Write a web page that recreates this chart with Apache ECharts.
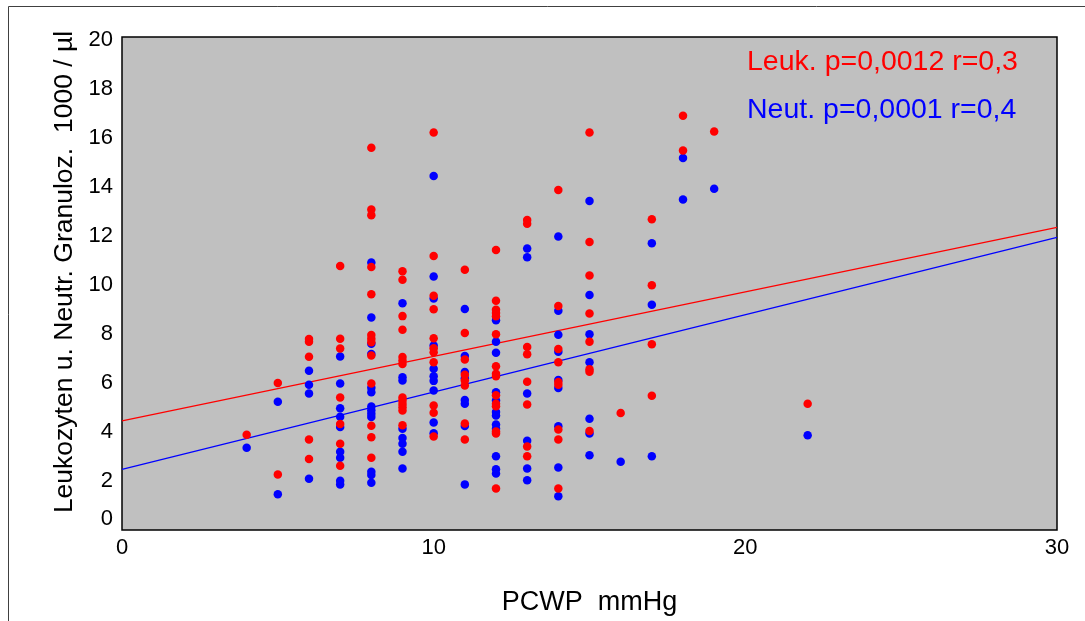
<!DOCTYPE html>
<html>
<head>
<meta charset="utf-8">
<script src="https://cdn.jsdelivr.net/npm/echarts@6/dist/echarts.min.js"></script>
<style>
html,body{margin:0;padding:0;background:#fff;}
#chart{width:1085px;height:621px;}
</style>
</head>
<body>
<div id="chart"></div>
<script>
// PCWP (mmHg) levels, one per column of points
const pcwp = [4, 5, 6, 7, 8, 9, 10, 11, 12, 13, 14, 15, 16, 17, 18, 19, 22];

// Leukozyten (1000/µl) per PCWP level
const leuk = [
  [3.88],
  [5.99, 2.26],
  [7.79, 7.68, 7.06, 3.69, 2.89],
  [10.76, 7.80, 7.40, 5.40, 4.32, 3.52, 2.62],
  [15.58, 13.07, 12.83, 10.72, 9.61, 7.95, 7.80, 7.65, 7.11, 5.97, 4.25, 3.78, 2.95],
  [10.55, 10.20, 8.72, 8.16, 7.05, 6.91, 6.77, 5.40, 5.28, 5.14, 5.00, 4.87, 4.27],
  [16.21, 11.17, 9.55, 9.00, 7.82, 7.41, 7.25, 6.84, 5.08, 4.78, 3.81],
  [10.61, 8.03, 6.95, 6.33, 6.10, 5.89, 4.34, 3.69],
  [11.42, 9.35, 8.98, 8.85, 8.71, 7.98, 6.68, 6.37, 6.27, 5.49, 5.15, 5.05, 4.02, 3.93, 1.69],
  [12.64, 12.49, 7.46, 7.17, 6.04, 5.12, 3.40, 3.01],
  [13.86, 9.13, 7.38, 6.84, 6.03, 5.92, 4.10, 3.69, 1.69],
  [16.21, 11.74, 10.38, 8.83, 7.68, 6.55, 6.45, 4.04],
  [4.77],
  [12.67, 9.98, 7.57, 5.47],
  [16.89, 15.47],
  [16.25],
  [5.15]
];

// Neutrophile Granulozyten (1000/µl) per PCWP level
const neut = [
  [3.35],
  [5.23, 1.46],
  [6.49, 5.92, 5.57, 2.09],
  [7.07, 5.97, 4.96, 4.62, 4.20, 3.19, 2.95, 2.01, 1.86],
  [10.91, 8.66, 7.59, 7.18, 5.80, 5.62, 5.04, 4.88, 4.74, 4.61, 2.37, 2.24, 1.93],
  [9.24, 6.23, 6.10, 4.13, 3.75, 3.52, 3.19, 2.51],
  [14.43, 10.34, 9.44, 7.52, 6.57, 6.27, 6.08, 5.69, 4.38, 3.94],
  [9.01, 7.09, 6.44, 6.19, 5.30, 5.15, 4.24, 1.86],
  [8.55, 7.68, 7.23, 5.62, 5.28, 4.81, 4.67, 4.30, 4.13, 3.01, 2.48, 2.30],
  [11.48, 11.12, 5.57, 3.64, 2.51, 2.03],
  [11.97, 8.94, 7.96, 7.27, 6.12, 5.79, 4.23, 2.55, 1.38],
  [13.41, 9.58, 7.98, 6.84, 4.54, 3.93, 3.05],
  [2.78],
  [11.69, 9.18, 3.01],
  [15.17, 13.47],
  [13.91],
  [3.86]
];

// Regression lines (endpoints at PCWP 0 and 30)
const fitLeuk = [[0, 4.45], [30, 12.34]];
const fitNeut = [[0, 2.47], [30, 11.93]];

const yTicks = [0, 2, 4, 6, 8, 10, 12, 14, 16, 18, 20];
const xTicks = [0, 10, 20, 30];

const labelLeuk = 'Leuk. p=0,0012 r=0,3';
const labelNeut = 'Neut. p=0,0001 r=0,4';
const xName = 'PCWP  mmHg';
const yName = 'Leukozyten u. Neutr. Granuloz.  1000 / µl';

function pairs(groups) {
  const out = [];
  groups.forEach((vals, i) => vals.forEach(v => out.push([pcwp[i], v])));
  return out;
}

const FONT = 'Arial, "Liberation Sans", sans-serif';
const chart = echarts.init(document.getElementById('chart'), null, {renderer: 'canvas'});
chart.setOption({
  animation: false,
  backgroundColor: '#ffffff',
  grid: {
    left: 122, right: 28, top: 37, bottom: 89,
    show: true, backgroundColor: '#c0c0c0', borderColor: '#000000', borderWidth: 1.5
  },
  xAxis: {
    type: 'value', min: 0, max: 30, interval: 10,
    name: xName, nameLocation: 'middle', nameGap: 59,
    nameTextStyle: {fontFamily: FONT, fontSize: 27, color: '#000'},
    axisLine: {show: false}, axisTick: {show: false}, splitLine: {show: false},
    axisLabel: {
      customValues: xTicks, fontFamily: FONT, fontSize: 22, color: '#000', margin: 7
    }
  },
  yAxis: {
    type: 'value', min: 0, max: 20.1,
    axisLine: {show: false}, axisTick: {show: false}, splitLine: {show: false},
    axisLabel: {
      customValues: yTicks, fontFamily: FONT, fontSize: 22, color: '#000', margin: 9,
      verticalAlignMinLabel: 'bottom'
    }
  },
  graphic: [
    {type: 'rect', silent: true, z: -10,
     shape: {x: 8.5, y: 6.5, width: 1200, height: 800},
     style: {fill: null, stroke: '#404040', lineWidth: 1}},
    {type: 'text', x: 65, y: 272, rotation: Math.PI / 2,
     style: {text: yName, fill: '#000', font: '26.5px ' + FONT, textAlign: 'center', textVerticalAlign: 'middle'}},
    {type: 'text', x: 747, y: 62, z: 100,
     style: {text: labelLeuk, fill: '#ff0000', font: '28.5px ' + FONT, textAlign: 'left', textVerticalAlign: 'middle'}},
    {type: 'text', x: 747, y: 110, z: 100,
     style: {text: labelNeut, fill: '#0000ff', font: '28.5px ' + FONT, textAlign: 'left', textVerticalAlign: 'middle'}}
  ],
  series: [
    {type: 'line', data: fitNeut, symbol: 'none', z: 1,
     lineStyle: {color: '#0000ff', width: 1.2}},
    {type: 'line', data: fitLeuk, symbol: 'none', z: 1,
     lineStyle: {color: '#ff0000', width: 1.2}},
    {type: 'scatter', data: pairs(neut), symbol: 'circle', symbolSize: 8.5, z: 2,
     itemStyle: {color: '#0000ff', opacity: 1}},
    {type: 'scatter', data: pairs(leuk), symbol: 'circle', symbolSize: 8.5, z: 3,
     itemStyle: {color: '#ff0000', opacity: 1}}
  ]
});
</script>
</body>
</html>
